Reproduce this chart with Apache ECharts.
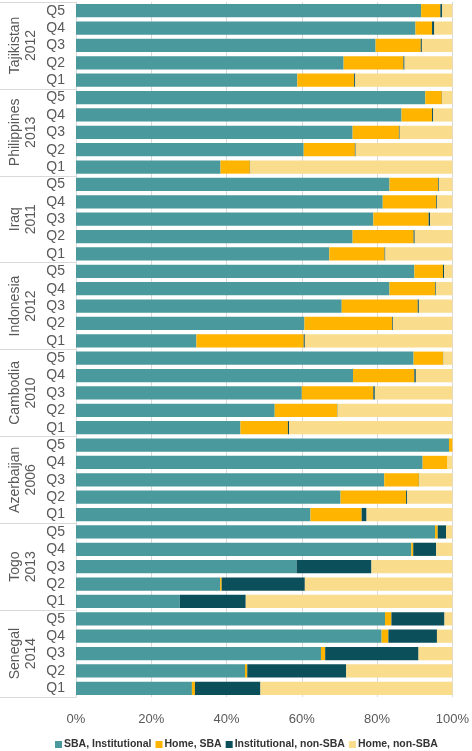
<!DOCTYPE html>
<html><head><meta charset="utf-8">
<script src="https://cdn.jsdelivr.net/npm/echarts@6/dist/echarts.min.js"></script>
<style>html,body{margin:0;padding:0;background:#fff}#c{width:472px;height:751px}</style>
</head><body><div id="c"></div>
<script>
const countries = ['Tajikistan\n2012','Philippines\n2013','Iraq\n2011','Indonesia\n2012','Cambodia\n2010','Azerbaijan\n2006','Togo\n2013','Senegal\n2014'];
const quintiles = ['Q5','Q4','Q3','Q2','Q1'];
const seriesNames = ['SBA, Institutional','Home, SBA','Institutional, non-SBA','Home, non-SBA'];
const xTicks = [0,20,40,60,80,100];
// rows: each country Q5..Q1
const sbaInstitutional = [
  91.7,90.2,79.6,71.1,58.8,
  92.8,86.5,73.5,60.5,38.4,
  83.3,81.5,79.0,73.5,67.3,
  89.9,83.3,70.6,60.7,32.0,
  89.7,73.6,60.0,52.8,43.7,
  99.1,92.1,81.9,70.3,62.3,
  95.4,89.1,58.6,38.3,27.6,
  82.1,81.2,65.1,44.9,30.8
];
const homeSBA = [
  5.1,4.4,12.0,15.9,15.1,
  4.4,8.1,12.3,13.6,7.8,
  12.9,14.2,14.7,16.2,14.7,
  7.6,12.1,20.2,23.3,28.5,
  7.8,16.3,19.0,16.6,12.6,
  0.9,6.6,9.2,17.4,13.6,
  0.7,0.5,0.0,0.4,0.0,
  1.7,1.8,1.1,0.6,0.8
];
const institutionalNonSBA = [
  0.5,0.6,0.3,0.3,0.3,
  0.1,0.3,0.2,0.2,0.1,
  0.2,0.2,0.4,0.3,0.2,
  0.3,0.2,0.3,0.2,0.3,
  0.1,0.4,0.4,0.1,0.3,
  0.0,0.0,0.1,0.3,1.3,
  2.2,6.1,19.9,22.1,17.5,
  14.1,12.9,24.8,26.3,17.4
];
const homeNonSBA = [
  2.7,4.8,8.1,12.7,25.8,
  2.7,5.1,14.0,25.7,53.7,
  3.6,4.1,5.9,10.0,17.8,
  2.2,4.4,8.9,15.8,39.2,
  2.4,9.7,20.6,30.5,43.4,
  0.0,1.3,8.8,12.0,22.8,
  1.7,4.3,21.5,39.2,54.9,
  2.1,4.1,9.0,28.2,51.0
];
const colors = ['#4a9a9d','#ffb400','#0b4f5b','#f9dc8c'];

const rowCats = [];
countries.forEach((c,ci)=>quintiles.forEach(q=>rowCats.push(ci+'|'+q)));
const values = [sbaInstitutional, homeSBA, institutionalNonSBA, homeNonSBA];

const chart = echarts.init(document.getElementById('c'));
chart.setOption({
  animation:false,
  textStyle:{fontFamily:'Liberation Sans, Arial, sans-serif'},
  grid:{left:76,right:19,top:2,bottom:54},
  legend:{
    data:seriesNames, bottom:-4, left:50,
    itemWidth:7,itemHeight:7,itemGap:4,icon:'rect',
    textStyle:{fontSize:10.5,fontWeight:'bold',color:'#333',padding:[0,0,0,-3]}
  },
  xAxis:{
    type:'value',min:xTicks[0],max:xTicks[xTicks.length-1],interval:20,
    axisLine:{show:false},axisTick:{show:false},
    axisLabel:{formatter:'{value}%',fontSize:13,color:'#595959',margin:16},
    splitLine:{lineStyle:{color:'#d9d9d9',width:1}}
  },
  yAxis:[{
    type:'category',data:rowCats,inverse:true,position:'left',
    axisLine:{show:true,lineStyle:{color:'#d9d9d9'}},
    axisTick:{show:false},
    axisLabel:{interval:0,hideOverlap:false,formatter:v=>v.split('|')[1],fontSize:14,color:'#595959',margin:11}
  },{
    type:'category',data:countries,inverse:true,position:'left',offset:0,
    axisLine:{show:false},
    axisTick:{show:true,interval:0,length:76,lineStyle:{color:'#d9d9d9'}},
    axisLabel:{interval:0,hideOverlap:false,rotate:90,fontSize:14,color:'#595959',margin:37,lineHeight:16}
  }],
  series:seriesNames.map((n,i)=>({
    name:n,type:'bar',stack:'s',yAxisIndex:0,
    barCategoryGap:'24%',
    itemStyle:{color:colors[i]},
    data:values[i]
  }))
});
</script></body></html>
